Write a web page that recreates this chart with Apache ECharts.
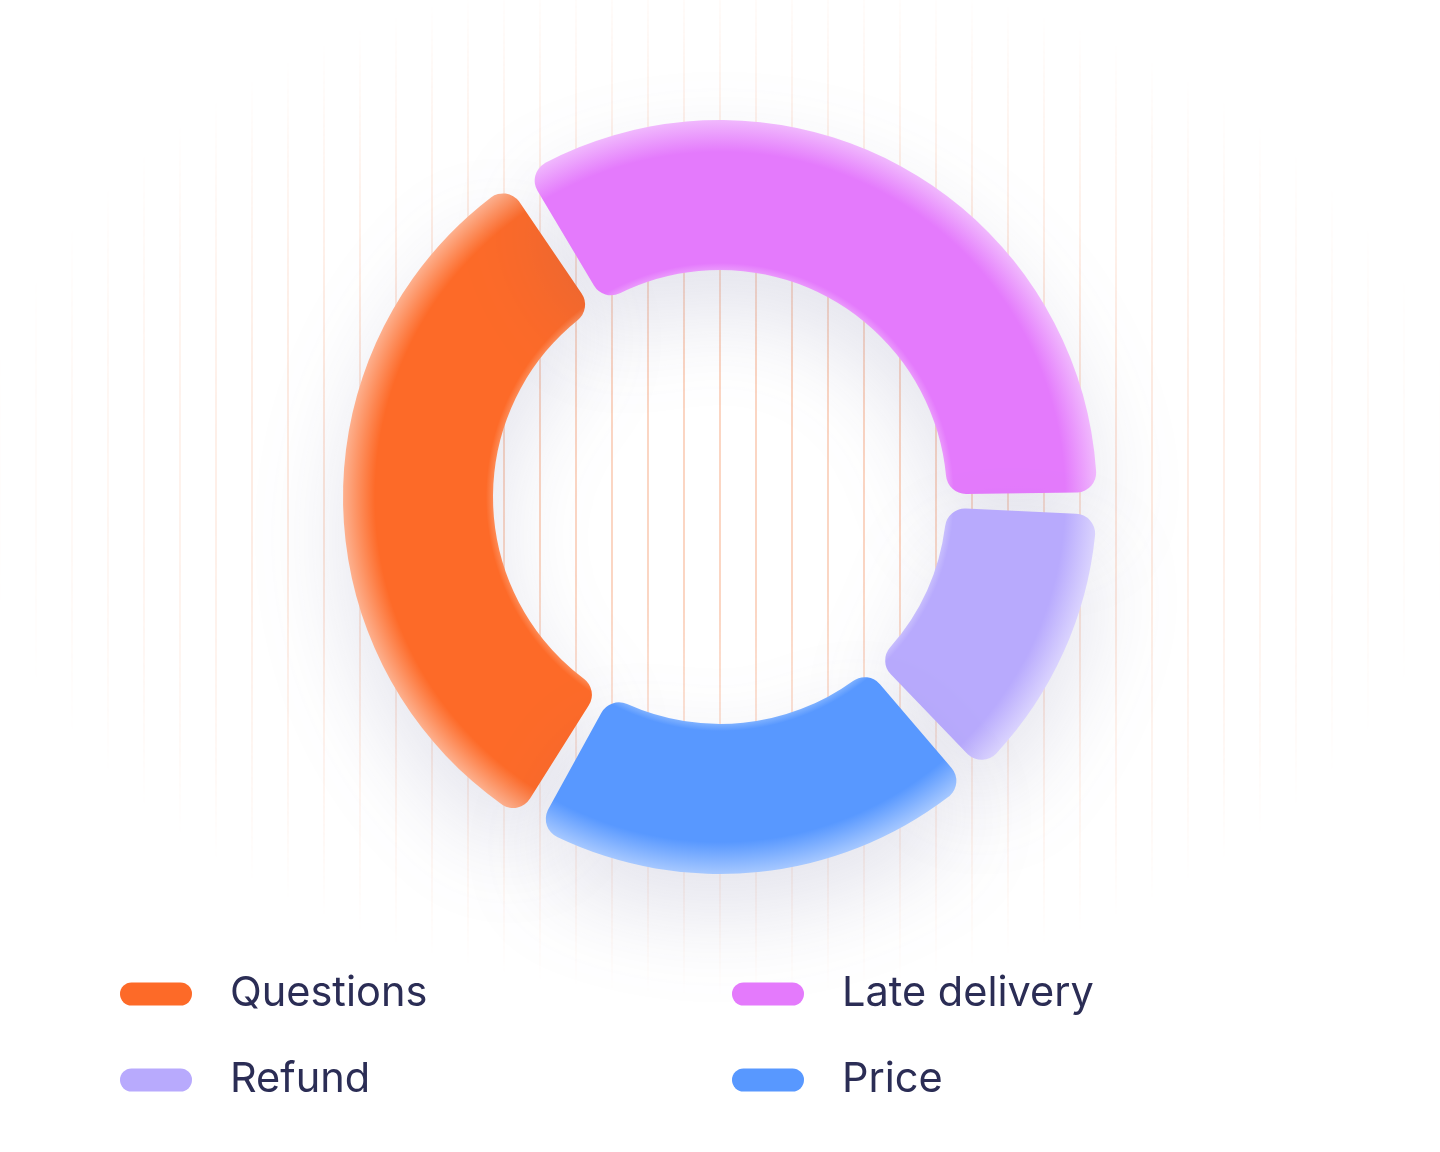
<!DOCTYPE html>
<html>
<head>
<meta charset="utf-8">
<script src="https://cdn.jsdelivr.net/npm/echarts@6/dist/echarts.min.js"></script>
<style>
  html, body { margin: 0; padding: 0; background: #ffffff; }
  #wrap { position: relative; width: 1440px; height: 1152px; overflow: hidden; }
  #stripes {
    position: absolute; left: 0; top: 0; width: 1440px; height: 1000px;
    background-image: repeating-linear-gradient(to right, rgba(250,200,175,0.75) 0px, rgba(250,200,175,0.75) 2px, transparent 2px, transparent 36px);
    background-position: 35px 0;
    -webkit-mask-image: radial-gradient(ellipse 52% 52% at 50% 48%, rgba(0,0,0,1) 25%, rgba(0,0,0,0.35) 70%, rgba(0,0,0,0) 100%);
    mask-image: radial-gradient(ellipse 52% 52% at 50% 48%, rgba(0,0,0,1) 25%, rgba(0,0,0,0.35) 70%, rgba(0,0,0,0) 100%);
  }
  #chart { position: absolute; left: 0; top: 0; width: 1440px; height: 1152px; }
</style>
</head>
<body>
<div id="wrap">
  <div id="stripes"></div>
  <div id="chart"></div>
</div>
<script>
const categories = ['Questions', 'Late delivery', 'Refund', 'Price'];
const values = [32.5, 34.3, 13, 20.2];
const colors = ['#FD6A28', '#E47AFC', '#B8AAFD', '#5898FF'];
const edgeColors = ['#FDB08E', '#F0B8FD', '#DAD3FE', '#A6C8FF'];
const innerEdgeColors = ['#FD8A55', '#EA98FC', '#C8BEFD', '#7DB0FF'];
const legendLeft = ['Questions', 'Refund'];
const legendRight = ['Late delivery', 'Price'];

const cx = 720, cy = 497, rIn = 227, rOut = 377;

const pieData = categories.map((name, i) => ({
  name: name,
  value: values[i],
  itemStyle: {
    color: new echarts.graphic.RadialGradient(cx, cy, rOut, [
      { offset: 0, color: innerEdgeColors[i] },
      { offset: rIn / rOut, color: innerEdgeColors[i] },
      { offset: (rIn + 7) / rOut, color: colors[i] },
      { offset: (rOut - 32) / rOut, color: colors[i] },
      { offset: 1, color: edgeColors[i] }
    ], true)
  }
}));

function legendItems(names) {
  return names.map(n => ({ name: n, itemStyle: { color: colors[categories.indexOf(n)] } }));
}

const pill = 'path://M11.5,0 L60.5,0 A11.5,11.5 0 0 1 60.5,23 L11.5,23 A11.5,11.5 0 0 1 11.5,0 Z';
const legendCommon = {
  orient: 'vertical',
  top: 973,
  padding: 0,
  itemWidth: 72,
  itemHeight: 23,
  itemGap: 44,
  icon: pill,
  selectedMode: false,
  textStyle: {
    fontFamily: 'Inter',
    fontSize: 41.5,
    color: '#2B2D55',
    padding: [0, 0, 0, 33]
  }
};

const chart = echarts.init(document.getElementById('chart'), null, { renderer: 'canvas' });
chart.setOption({
  backgroundColor: 'transparent',
  animation: false,
  color: colors,
  legend: [
    Object.assign({}, legendCommon, { left: 120, data: legendItems(legendLeft) }),
    Object.assign({}, legendCommon, { left: 732, data: legendItems(legendRight) })
  ],
  series: [
    {
      type: 'pie',
      center: [cx, cy],
      radius: [rIn, rOut],
      startAngle: 239.5,
      clockwise: true,
      padAngle: 3.4,
      label: { show: false },
      labelLine: { show: false },
      silent: true,
      itemStyle: {
        borderRadius: 20,
        shadowColor: 'rgba(70, 70, 130, 0.15)',
        shadowBlur: 90,
        shadowOffsetY: 40
      },
      data: pieData
    }
  ]
});
</script>
</body>
</html>
